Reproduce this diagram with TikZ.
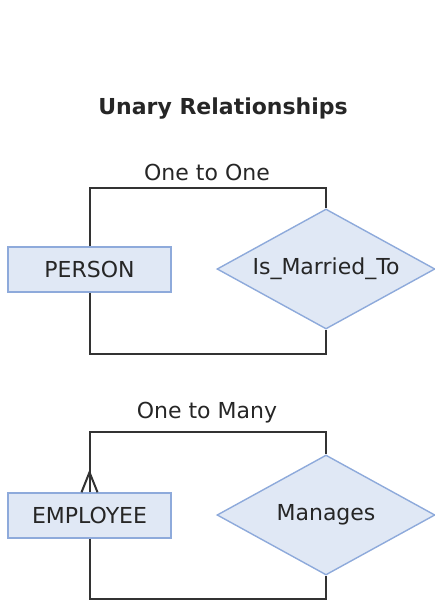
\documentclass[tikz,border=0pt]{standalone}
\usepackage{fontspec}
\setmainfont{DejaVu Sans}
\usetikzlibrary{shapes.geometric}
\definecolor{entfill}{HTML}{E0E8F5}
\definecolor{entline}{HTML}{8EAADB}
\definecolor{linkgray}{HTML}{333333}
\begin{document}
\begin{tikzpicture}[x=1pt, y=-1pt, every node/.style={font=\fontsize{22}{26}\selectfont, text=black!85},
  entity/.style={draw=entline, fill=entfill, line width=1.4pt, minimum width=163pt, minimum height=45pt, inner sep=0pt},
  rel/.style={diamond, draw=entline, fill=entfill, line width=1.4pt, minimum width=218pt, minimum height=120pt, aspect=1.8, inner sep=0pt},
  link/.style={draw=linkgray, line width=2pt}]
\useasboundingbox (0,0) rectangle (435,601);
\node[font=\fontsize{22}{26}\selectfont\bfseries] (title) at (223,109) {Unary Relationships};
% one to one
\node (oneone) at (207,172) {One to One};
\node[entity] (person) at (89.5,269.5) {PERSON};
\node[rel] (married) at (326,269) {Is\_Married\_To};
\draw[link] (person.north) -- ++(0,-58) -| (married.north);
\draw[link] (person.south) -- ++(0,61) -| (married.south);
% one to many
\node (onemany) at (207,413) {One to Many};
\node[entity] (employee) at (89.5,515.5) {EMPLOYEE};
\node[rel] (manages) at (326,515) {Manages};
\draw[link] (employee.north) -- ++(0,-60) -| (manages.north);
\draw[link] (employee.south) -- ++(0,60) -| (manages.south);
\draw[link] ([xshift=-8pt]employee.north) -- ([yshift=20pt]employee.north) -- ([xshift=8pt]employee.north);
\end{tikzpicture}
\end{document}
